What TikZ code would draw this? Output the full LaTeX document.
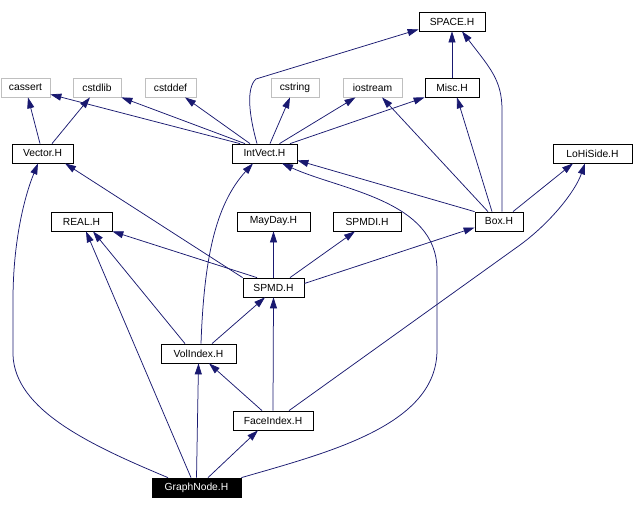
\documentclass[tikz,border=0pt]{standalone}
\usepackage{fontspec}
\setmainfont{Liberation Sans}
\usetikzlibrary{arrows.meta}

\definecolor{edgeblue}{HTML}{191970}
\definecolor{sysgray}{HTML}{BFBFBF}

\begin{document}
\begin{tikzpicture}[
  x=1pt,y=-1pt,
  >={Triangle[length=11pt,width=7pt]},
  hdr/.style={
    draw,
    fill=white,
    line width=0.75pt,
    minimum height=19pt,
    inner sep=0pt,
    font=\fontsize{10.3}{12}\selectfont
  },
  sys/.style={hdr,draw=sysgray},
  root/.style={hdr,fill=black,text=white},
  dep/.style={->,draw=edgeblue,line width=0.75pt}
]
  \useasboundingbox (0,0) rectangle (633,509);

  % top rows
  \node[hdr,minimum width=66pt] (space) at (452,21.5) {SPACE.H};
  \node[sys,minimum width=49pt] (cassert) at (25.5,87.5) {cassert};
  \node[sys,minimum width=48pt] (cstdlib) at (97,87.5) {cstdlib};
  \node[sys,minimum width=51pt] (cstddef) at (170.5,87.5) {cstddef};
  \node[sys,minimum width=48pt] (cstring) at (295,87.5) {cstring};
  \node[sys,minimum width=59pt] (iostream) at (372.5,87.5) {iostream};
  \node[hdr,minimum width=54pt] (misc) at (452,87.5) {Misc.H};
  \node[hdr,minimum width=61pt] (vector) at (42.5,153.5) {Vector.H};
  \node[hdr,minimum width=65pt] (intvect) at (264.5,153.5) {IntVect.H};
  \node[hdr,minimum width=79pt] (lohiside) at (592.5,153.5) {LoHiSide.H};
  \node[hdr,minimum width=61pt] (real) at (81.5,221.5) {REAL.H};
  \node[hdr,minimum width=73pt] (mayday) at (273.5,221.5) {MayDay.H};
  \node[hdr,minimum width=68pt] (spmdi) at (367,221.5) {SPMDI.H};
  \node[hdr,minimum width=48pt] (box) at (499,221.5) {Box.H};
  % lower rows
  \node[hdr,minimum width=61pt] (spmd) at (273.5,287.5) {SPMD.H};
  \node[hdr,minimum width=75pt] (volindex) at (198.5,353.5) {VolIndex.H};
  \node[hdr,minimum width=80pt] (faceindex) at (273,420.5) {FaceIndex.H};
  \node[root,minimum width=89pt] (graphnode) at (196.5,487.5) {GraphNode.H};

  % Vector.H
  \draw[dep] ([xshift=-2.5pt]vector.north) -- ([xshift=2.5pt]cassert.south);
  \draw[dep] ([xshift=9.5pt]vector.north) -- ([xshift=-7pt]cstdlib.south);
  % IntVect.H
  \draw[dep] ([xshift=-24.5pt]intvect.north) -- ([yshift=3pt]cassert.south east);
  \draw[dep] ([xshift=-19.5pt]intvect.north) -- (cstdlib.south east);
  \draw[dep] ([xshift=-14.5pt]intvect.north) -- ([xshift=14.5pt]cstddef.south);
  \draw[dep] ([xshift=5.5pt]intvect.north) -- ([xshift=-5pt]cstring.south);
  \draw[dep] ([xshift=15pt]intvect.north) -- ([xshift=-17pt]iostream.south);
  \draw[dep] ([xshift=25.5pt]intvect.north) -- (misc.south west);
  \draw[dep] ([xshift=-7.5pt]intvect.north) .. controls (249,115) and (246,88) .. (256,79)
    -- ([yshift=2pt]space.south west);
  % Misc.H
  \draw[dep] (misc.north) -- (space.south);
  % Box.H
  \draw[dep] ([xshift=3pt]box.north) -- (502,110) .. controls (502,80) and (490,68)
    .. ([xshift=10pt]space.south);
  \draw[dep] ([xshift=-7pt]box.north) -- ([xshift=5pt]misc.south);
  \draw[dep] ([xshift=-11pt]box.north) -- ([xshift=9.5pt]iostream.south);
  \draw[dep] (box.north west) -- ([yshift=3pt]intvect.south east);
  \draw[dep] ([xshift=14pt]box.north) -- ([xshift=-19.5pt]lohiside.south);
  % SPMD.H
  \draw[dep] ([xshift=-16.5pt]spmd.north) -- (real.south east);
  \draw[dep] (spmd.north west) -- ([xshift=22.5pt]vector.south);
  \draw[dep] (spmd.north) -- (mayday.south);
  \draw[dep] ([xshift=16.5pt]spmd.north) -- ([xshift=-12pt]spmdi.south);
  \draw[dep] ([yshift=4pt]spmd.east) -- ([yshift=-6pt]box.west);
  % VolIndex.H
  \draw[dep] ([xshift=-13.5pt]volindex.north) -- ([xshift=11.5pt]real.south);
  \draw[dep] ([xshift=2.5pt]volindex.north) .. controls (204,260) and (215,205)
    .. ([xshift=-11.5pt]intvect.south);
  \draw[dep] ([xshift=13.5pt]volindex.north) -- ([xshift=-8.5pt]spmd.south);
  % FaceIndex.H
  \draw[dep] ([xshift=-11pt]faceindex.north) -- ([xshift=10.5pt]volindex.south);
  \draw[dep] (faceindex.north) -- (spmd.south);
  \draw[dep] ([xshift=16pt]faceindex.north) -- (520,245) .. controls (550,223) and (575,192)
    .. ([xshift=-7.5pt]lohiside.south);
  % GraphNode.H
  \draw[dep] ([xshift=-28.5pt]graphnode.north) .. controls (90,445) and (15,410) .. (13,355)
    -- (13,300) .. controls (13,240) and (25,195) .. ([xshift=-4.5pt]vector.south);
  \draw[dep] ([xshift=-5.5pt]graphnode.north) -- ([xshift=4.5pt]real.south);
  \draw[dep] (graphnode.north) -- (volindex.south);
  \draw[dep] ([xshift=11.5pt]graphnode.north) -- ([xshift=-15pt]faceindex.south);
  \draw[dep] (graphnode.north east) .. controls (330,452) and (437,425) .. (437,350)
    -- (437,270) .. controls (437,200) and (340,190) .. ([xshift=17.5pt]intvect.south);
\end{tikzpicture}
\end{document}
